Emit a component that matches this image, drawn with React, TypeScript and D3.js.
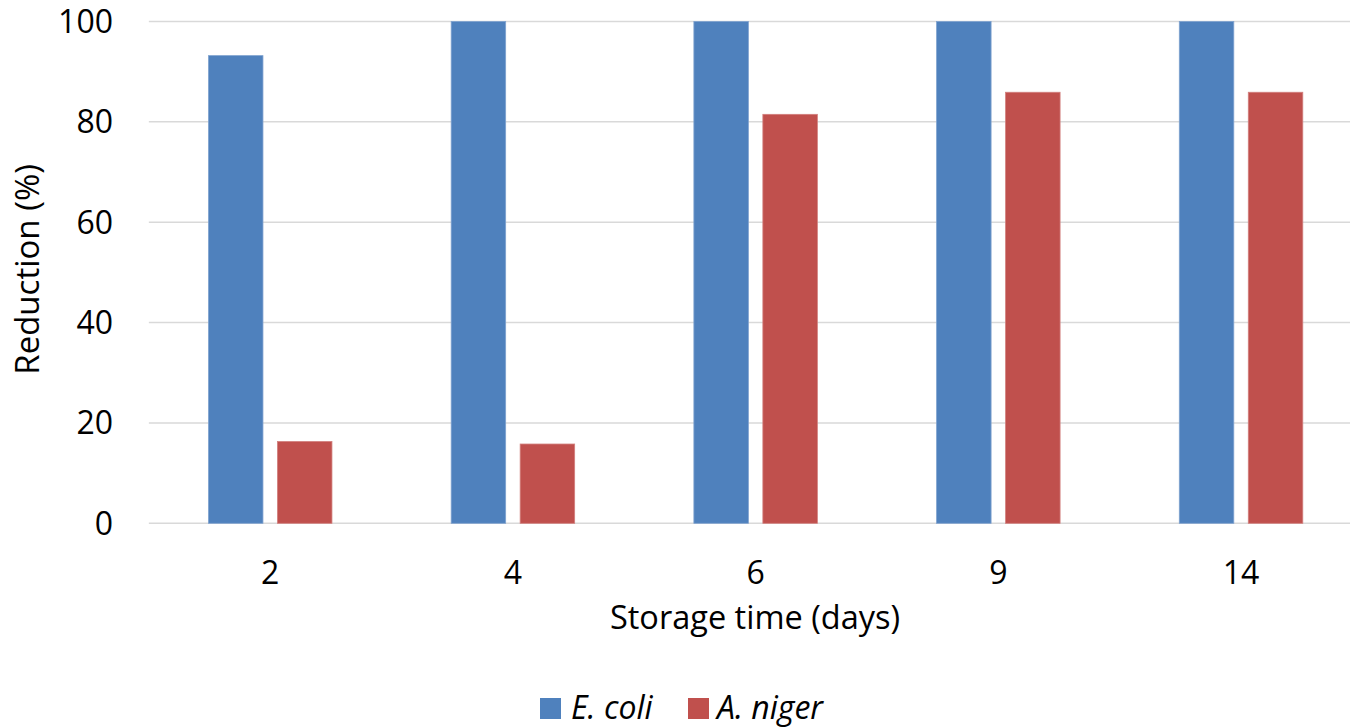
import * as d3 from "d3";

// data
const days = ["2", "4", "6", "9", "14"];
const series = ["E. coli", "A. niger"];
const eColi = [93.2, 100, 100, 100, 100];
const aNiger = [16.3, 15.8, 81.5, 85.9, 85.9];
const yTicks = [0, 20, 40, 60, 80, 100];

const colors = ["#4F81BD", "#C0504D"];
const edges = ["#7FA2CF", "#D27F7D"];
const font = "'Open Sans', sans-serif";
const fs = 32;

const W = 1350;
const H = 728;
const plot = { left: 148.85, right: 1362.4, top: 21.5, bottom: 523.3 };

const App = () => {
  const x0 = d3.scaleBand().domain(days).range([plot.left, plot.right]).padding(0);
  const x1 = d3
    .scaleBand()
    .domain(series)
    .range([0, x0.bandwidth()])
    .paddingInner(0.21)
    .paddingOuter(0.864);
  const y = d3.scaleLinear().domain([0, 100]).range([plot.bottom, plot.top]);

  const values = [eColi, aNiger];

  return (
    <svg
      width={W}
      height={H}
      style={{ position: "absolute", left: 0, top: 0, background: "#fff" }}
    >
      {/* grid */}
      {yTicks.map((t) => (
        <g key={t}>
          <line
            x1={plot.left}
            x2={plot.right}
            y1={y(t)}
            y2={y(t)}
            stroke="#D9D9D9"
            strokeWidth={1.5}
          />
          <text
            x={113}
            y={y(t)}
            dy="0.36em"
            textAnchor="end"
            fontFamily={font}
            fontSize={fs}
            fill="#000"
          >
            {t}
          </text>
        </g>
      ))}

      {/* bars */}
      {days.map((d, i) => (
        <g key={d} transform={`translate(${x0(d)},0)`}>
          {series.map((s, j) => (
            <rect
              key={s}
              x={x1(s)}
              y={y(values[j][i])}
              width={x1.bandwidth()}
              height={y(0) - y(values[j][i])}
              fill={colors[j]}
              stroke={edges[j]}
              strokeWidth={0.8}
            />
          ))}
          <text
            x={x0.bandwidth() / 2}
            y={584}
            textAnchor="middle"
            fontFamily={font}
            fontSize={fs}
          >
            {d}
          </text>
        </g>
      ))}

      {/* axis titles */}
      <text x={755} y={629} textAnchor="middle" fontFamily={font} fontSize={fs + 0.5}>
        Storage time (days)
      </text>
      <text
        transform={`translate(39,${(plot.top + plot.bottom) / 2 - 3}) rotate(-90)`}
        textAnchor="middle"
        fontFamily={font}
        fontSize={fs + 1}
      >
        Reduction (%)
      </text>

      {/* legend */}
      {[
        { label: "E. coli", x: 540, tx: 571 },
        { label: "A. niger", x: 688, tx: 717 },
      ].map((l, i) => (
        <g key={l.label}>
          <rect x={l.x} y={698} width={21} height={21} fill={colors[i]} />
          <text
            x={l.tx}
            y={719}
            fontFamily={font}
            fontSize={fs}
            fontStyle="italic"
          >
            {l.label}
          </text>
        </g>
      ))}
    </svg>
  );
};

export default App;
